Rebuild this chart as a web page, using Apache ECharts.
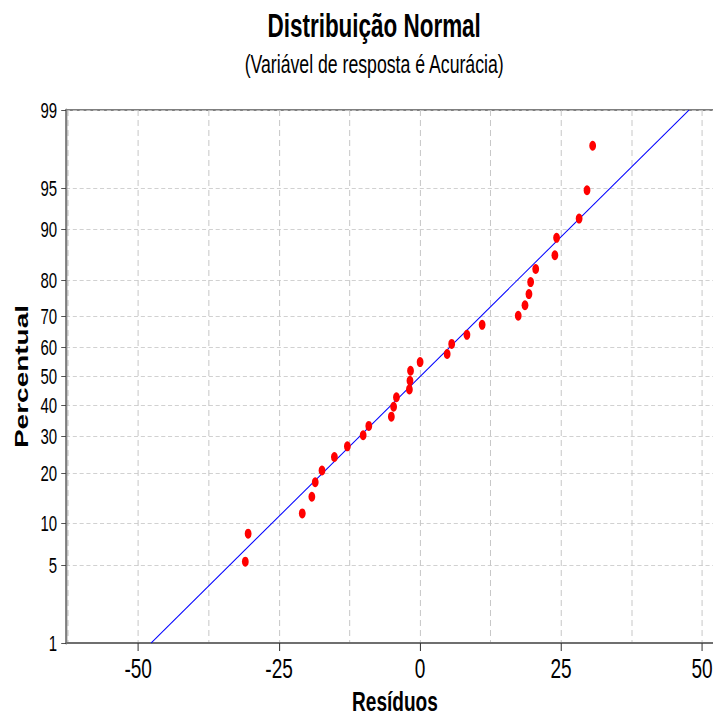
<!DOCTYPE html>
<html>
<head>
<meta charset="utf-8">
<title>Distribuição Normal</title>
<script src="https://cdn.jsdelivr.net/npm/echarts@6/dist/echarts.min.js"></script>
<style>
html,body{margin:0;padding:0;background:#fff;overflow:hidden;width:713px;height:716px;}
/* o grafico original e comprimido na horizontal: desenha largo e encolhe */
#main{width:1048px;height:716px;transform:scaleX(0.6803);transform-origin:0 0;}
</style>
</head>
<body>
<div id="main"></div>
<script>
// residuos e percentual
var residuos=[-31.0,-30.5,-20.9,-19.2,-18.6,-17.4,-15.2,-12.9,-10.1,-9.1,-5.1,-4.7,-4.2,-1.9,-1.8,-1.7,0.0,4.8,5.6,8.3,11.0,17.4,18.6,19.3,19.6,20.5,23.9,24.2,28.2,29.6,30.6];
var percentual=[5.3,8.5,11.6,14.7,17.8,20.6,24.1,27.1,30.4,33.3,36.3,39.6,42.8,45.5,48.5,52.0,55.0,57.8,61.2,64.2,67.4,70.2,73.3,76.4,79.5,82.6,85.5,88.7,91.6,94.8,97.8];
// reta ajustada (extremos)
var retaX=[-47.7,47.7];
var retaPct=[1,99];
var yTicks=[1,5,10,20,30,40,50,60,70,80,90,95,99];
var xTicks=[-50,-25,0,25,50];
var xGrid=[-62.5,-50,-37.5,-25,-12.5,0,12.5,25,37.5,50];

// inversa da normal padrao (Acklam)
function normInv(p){
	var a=[-3.969683028665376e+01,2.209460984245205e+02,-2.759285104469687e+02,1.383577518672690e+02,-3.066479806614716e+01,2.506628277459239e+00];
	var b=[-5.447609879822406e+01,1.615858368580409e+02,-1.556989798598866e+02,6.680131188771972e+01,-1.328068155288572e+01];
	var c=[-7.784894002430293e-03,-3.223964580411365e-01,-2.400758277161838e+00,-2.549732539343734e+00,4.374664141464968e+00,2.938163982698783e+00];
	var d=[7.784695709041462e-03,3.224671290700398e-01,2.445134137142996e+00,3.754408661907416e+00];
	var pl=0.02425,q,r;
	if(p<pl){
		q=Math.sqrt(-2*Math.log(p));
		return (((((c[0]*q+c[1])*q+c[2])*q+c[3])*q+c[4])*q+c[5])/((((d[0]*q+d[1])*q+d[2])*q+d[3])*q+1);
	}
	if(p>1-pl){
		q=Math.sqrt(-2*Math.log(1-p));
		return -(((((c[0]*q+c[1])*q+c[2])*q+c[3])*q+c[4])*q+c[5])/((((d[0]*q+d[1])*q+d[2])*q+d[3])*q+1);
	}
	q=p-0.5;r=q*q;
	return (((((a[0]*r+a[1])*r+a[2])*r+a[3])*r+a[4])*r+a[5])*q/(((((b[0]*r+b[1])*r+b[2])*r+b[3])*r+b[4])*r+1);
}

var yTickZ=yTicks.map(function(p){return normInv(p/100);});
function pctLabel(v){
	var best=0;
	for(var i=0;i<yTickZ.length;i++){
		if(Math.abs(yTickZ[i]-v)<Math.abs(yTickZ[best]-v)) best=i;
	}
	return String(yTicks[best]);
}

var pontos=[];
for(var i=0;i<residuos.length;i++){
	pontos.push([residuos[i],normInv(percentual[i]/100)]);
}
var reta=[];
for(var j=0;j<retaX.length;j++){
	reta.push([retaX[j],normInv(retaPct[j]/100)]);
}

var fonte='"Liberation Sans",Arial,sans-serif';
var xMin=-62.8,xMax=52.3;

var myChart=echarts.init(document.getElementById('main'),null,{renderer:'svg',width:1048,height:716});
var option={
	backgroundColor:'#fff',
	animation:false,
	graphic:[
		{type:'text',x:550,y:25,style:{text:'Distribuição Normal',fontFamily:fonte,fontWeight:'bold',fontSize:33,fill:'#000',textAlign:'center',textVerticalAlign:'middle'}},
		{type:'text',x:550,y:64,style:{text:'(Variável de resposta é Acurácia)',fontFamily:fonte,fontSize:26,fill:'#000',textAlign:'center',textVerticalAlign:'middle'}}
	],
	grid:{left:97,right:-3,top:110,bottom:73,outerBoundsMode:'none',containLabel:false,show:true,borderColor:'#7f7f7f',borderWidth:2,backgroundColor:'transparent'},
	xAxis:[
		{
			type:'value',min:xMin,max:xMax,
			name:'Resíduos',nameLocation:'middle',nameGap:44,
			nameTextStyle:{fontFamily:fonte,fontWeight:'bold',fontSize:28,color:'#000',padding:[0,0,0,13]},
			axisLine:{show:true,onZero:false,lineStyle:{color:'#6f6f6f',width:2}},
			axisTick:{show:true,customValues:xTicks,length:8,lineStyle:{color:'#333',width:1.5}},
			axisLabel:{customValues:xTicks,fontFamily:fonte,fontSize:28,color:'#000',margin:11},
			splitLine:{show:false}
		},
		{
			type:'value',min:xMin,max:xMax,position:'bottom',
			axisLine:{show:false,onZero:false},
			axisTick:{show:false,customValues:xGrid},
			axisLabel:{show:false,customValues:xGrid},
			splitLine:{show:true,lineStyle:{color:'#c8c8c8',width:1.5,type:[6,4]}}
		}
	],
	yAxis:{
		type:'value',min:yTickZ[0],max:yTickZ[yTickZ.length-1],
		name:'Percentual',nameLocation:'middle',nameGap:52,nameRotate:90,
		nameTextStyle:{fontFamily:fonte,fontWeight:'bold',fontSize:28,color:'#000'},
		axisLine:{show:true,onZero:false,lineStyle:{color:'#7f7f7f',width:3}},
		axisTick:{show:true,customValues:yTickZ,length:7,lineStyle:{color:'#333',width:1}},
		axisLabel:{customValues:yTickZ,formatter:pctLabel,fontFamily:fonte,fontSize:22,color:'#000',margin:13},
		splitLine:{show:true,lineStyle:{color:'#c8c8c8',width:1,type:[6,4]}}
	},
	series:[
		{
			name:'Ajuste',type:'line',data:reta,xAxisIndex:0,
			showSymbol:false,symbol:'none',
			lineStyle:{color:'#0000ff',width:1.2},
			z:2
		},
		{
			name:'Resíduos',type:'scatter',data:pontos,xAxisIndex:0,
			symbol:'circle',symbolSize:10,
			itemStyle:{color:'#ff0000',opacity:1},
			z:3
		}
	]
};
myChart.setOption(option);
</script>
</body>
</html>
